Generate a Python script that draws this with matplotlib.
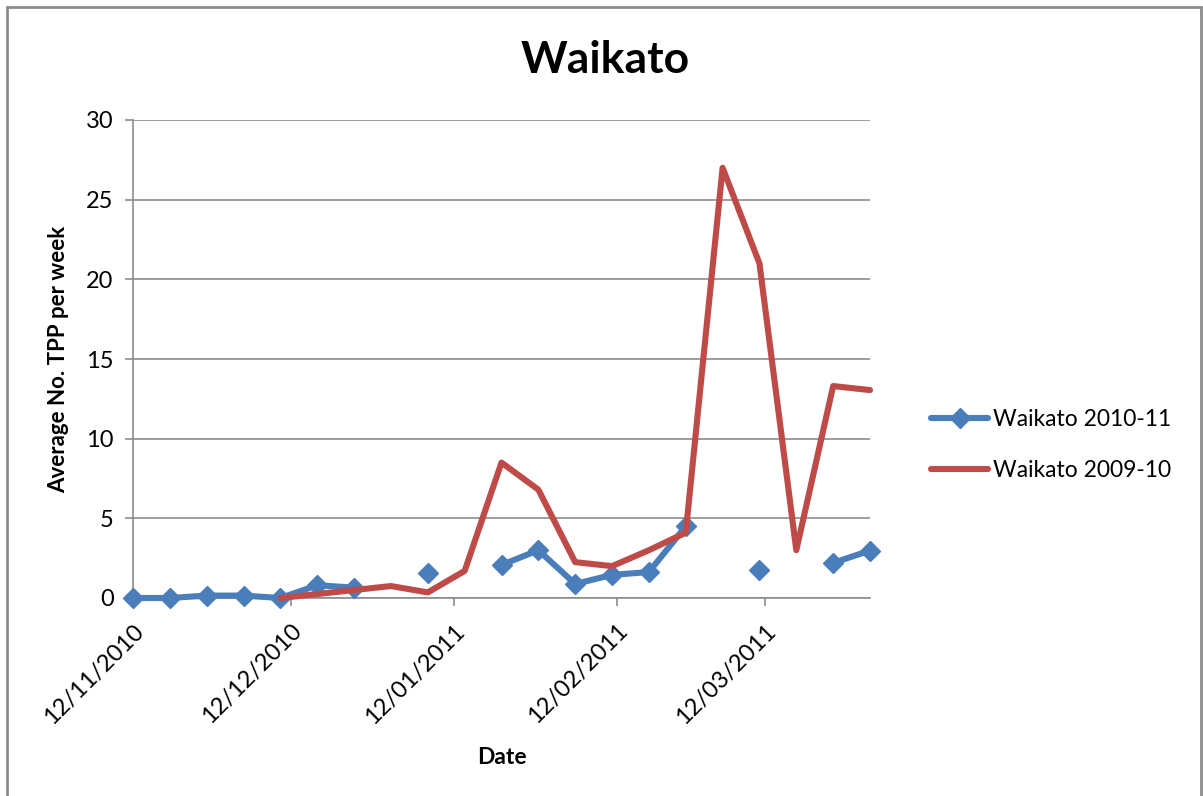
import numpy as np
import matplotlib
matplotlib.use("Agg")
import matplotlib.pyplot as plt
import matplotlib.dates as mdates
import datetime as dt
from matplotlib.patches import Rectangle

plt.rcParams['font.family'] = ['Lato', 'DejaVu Sans']

start = dt.date(2010, 11, 12)
dates = [start + dt.timedelta(days=7 * k) for k in range(21)]

nan = np.nan
waikato_2010_11 = [0.0, 0.0, 0.15, 0.15, 0.0, 0.8, 0.65, nan, 1.55, nan, 2.07,
                   3.0, 0.88, 1.45, 1.63, 4.5, nan, 1.76, nan, 2.2, 2.98]
waikato_2009_10 = [nan, nan, nan, nan, 0.0, 0.25, 0.5, 0.75, 0.35, 1.7, 8.5,
                   6.8, 2.25, 2.0, 3.0, 4.1, 27.0, 21.0, 3.0, 13.3, 13.05]
tick_dates = [dt.date(2010, 11, 12), dt.date(2010, 12, 12), dt.date(2011, 1, 12),
              dt.date(2011, 2, 12), dt.date(2011, 3, 12)]

W, H = 1203, 796
fig = plt.figure(figsize=(W / 100, H / 100), dpi=100)
ax = fig.add_axes([133 / W, 1 - 598 / H, (870 - 133) / W, (598 - 120) / H])

blue = '#4A7EBB'
red = '#BE4B48'
ax.plot(dates, waikato_2010_11, color=blue, lw=4.4, marker='D', ms=10,
        label='Waikato 2010-11', zorder=3, solid_capstyle='round', clip_on=False)
ax.plot(dates, waikato_2009_10, color=red, lw=4.4, label='Waikato 2009-10',
        zorder=4, solid_capstyle='round', clip_on=False)

ax.set_xlim(mdates.date2num(dates[0]), mdates.date2num(dates[-1]))
ax.set_ylim(0, 30)
ax.set_yticks(range(0, 31, 5))
ax.set_xticks([mdates.date2num(d) for d in tick_dates])
ax.xaxis.set_major_formatter(mdates.DateFormatter('%d/%m/%Y'))
plt.setp(ax.get_xticklabels(), rotation=45, ha='right', rotation_mode='anchor')

grey = '#8C8C8C'
ax.grid(axis='y', color=grey, lw=1.2)
ax.set_axisbelow(True)
for s in ['top', 'right']:
    ax.spines[s].set_visible(False)
for s in ['left', 'bottom']:
    ax.spines[s].set_color(grey)
    ax.spines[s].set_linewidth(1.2)
ax.tick_params(axis='both', colors=grey, labelcolor='black', labelsize=17,
               length=6, width=1.2, direction='out')
ax.tick_params(axis='x', pad=10)
ax.tick_params(axis='y', pad=8)

ax.set_ylabel('Average No. TPP per week', fontsize=16, fontweight='bold', labelpad=12)
ax.set_xlabel('Date', fontsize=16.5, fontweight='bold', labelpad=14)
fig.text(605 / W, 1 - 60 / H, 'Waikato', fontsize=32, fontweight='bold',
         ha='center', va='center')

leg = ax.legend(loc='center left', bbox_to_anchor=(1.055, 0.32), frameon=False,
                fontsize=16.5, handlelength=2.5, handletextpad=0.2, labelspacing=1.3)

fig.patches.append(Rectangle((7 / W, -0.01), (1201 - 7) / W, 1 - 7 / H + 0.01,
                             transform=fig.transFigure, fill=False,
                             edgecolor='#8C8C8C', lw=2))

fig.savefig('out.png', dpi=100)
